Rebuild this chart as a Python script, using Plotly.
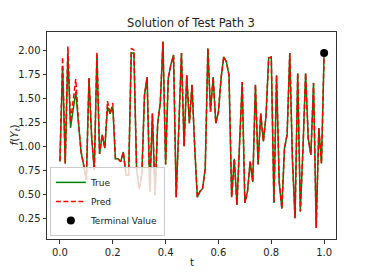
import numpy as np
import plotly.graph_objects as go

true_vals = [0.84, 1.83, 0.82, 1.97, 1.19, 1.40, 1.57, 1.25, 0.94, 0.80,
             0.65, 1.71, 1.10, 0.75, 1.95, 0.92, 1.12, 0.98, 1.41, 1.34,
             1.41, 0.87, 0.87, 0.84, 0.94, 0.70, 0.70, 1.97, 1.97, 0.77,
             0.56, 0.70, 1.53, 1.72, 0.53, 1.34, 0.49, 1.24, 1.46, 2.09,
             0.81, 1.71, 1.85, 1.95, 0.47, 1.20, 1.97, 1.00, 1.74, 1.24,
             1.64, 1.00, 0.47, 0.53, 0.56, 0.77, 2.02, 1.36, 1.72, 1.24,
             1.36, 1.71, 1.93, 1.88, 1.74, 0.47, 0.87, 0.39, 0.98, 1.67,
             0.41, 0.53, 0.84, 0.63, 1.64, 0.81, 1.34, 1.05, 1.31, 1.92,
             1.93, 0.41, 1.74, 0.63, 0.35, 0.98, 1.12, 1.97, 0.87, 0.25,
             1.76, 0.32, 0.98, 1.76, 1.08, 0.91, 1.66, 0.15, 1.19, 0.82,
             1.97]
pred_vals = list(true_vals)
pred_over = {0: 0.85, 1: 1.93, 3: 2.04, 4: 1.25, 5: 1.45, 6: 1.70, 14: 1.98,
             18: 1.47, 20: 1.45, 27: 2.02, 28: 2.00}
for k, v in pred_over.items():
    pred_vals[k] = v
t_vals = np.linspace(0, 1, len(true_vals))
terminal_t = [1.0]
terminal_v = [1.97]

x_ticks = [0.0, 0.2, 0.4, 0.6, 0.8, 1.0]
y_ticks = [0.25, 0.50, 0.75, 1.00, 1.25, 1.50, 1.75, 2.00]

# page body has an 8px margin, so the figure is sized/offset to compensate
W, H = 366, 265
L, T, R, B = 39, 24, 38, 34
plot_h = H - T - B

fig = go.Figure()
fig.add_trace(go.Scatter(x=t_vals, y=true_vals, mode="lines", name="True",
                         line=dict(color="green", width=1.5)))
fig.add_trace(go.Scatter(x=t_vals, y=pred_vals, mode="lines", name="Pred",
                         line=dict(color="red", width=1.5, dash="5px,2.5px")))
fig.add_trace(go.Scatter(x=terminal_t, y=terminal_v, mode="markers", name="Terminal Value",
                         marker=dict(color="black", size=8)))

axis_common = dict(showline=True, linecolor="#333", linewidth=1, mirror=True,
                   ticks="outside", ticklen=3.5, tickcolor="#333", showgrid=False,
                   zeroline=False, automargin=False, tickfont=dict(size=10, color="#222"))
fig.update_xaxes(range=[-0.049, 1.045], tickvals=x_ticks,
                 ticktext=[f"{v:.1f}" for v in x_ticks], **axis_common)
fig.update_yaxes(range=[0.034, 2.19], tickvals=y_ticks,
                 ticktext=[f"{v:.2f}" for v in y_ticks], **axis_common)

fig.add_annotation(text="t", xref="paper", yref="paper", x=0.5, y=-23 / plot_h,
                   xanchor="center", yanchor="middle", showarrow=False,
                   font=dict(size=10.5, color="#222"))
fig.add_annotation(text="<i>f</i>(<i>Y</i><sub><i>t</i></sub>)", xref="paper", yref="paper",
                   x=-33 / (W - L - R), y=0.5, textangle=-90,
                   xanchor="center", yanchor="middle", showarrow=False,
                   font=dict(size=10.5, color="#222"))

fig.update_layout(
    width=W, height=H,
    margin=dict(l=L, r=R, t=T, b=B),
    paper_bgcolor="white", plot_bgcolor="white",
    font=dict(family="DejaVu Sans", color="#222"),
    title=dict(text="Solution of Test Path 3", x=0.5, xanchor="center",
               y=1 - 15 / H, yanchor="middle", font=dict(size=11.5, color="#222")),
    legend=dict(x=0.01, y=0.015, xanchor="left", yanchor="bottom",
                bgcolor="rgba(255,255,255,0.8)", bordercolor="#ccc", borderwidth=1,
                font=dict(size=9), tracegroupgap=0, itemwidth=30),
    showlegend=True,
)
fig.write_html("out.html")
